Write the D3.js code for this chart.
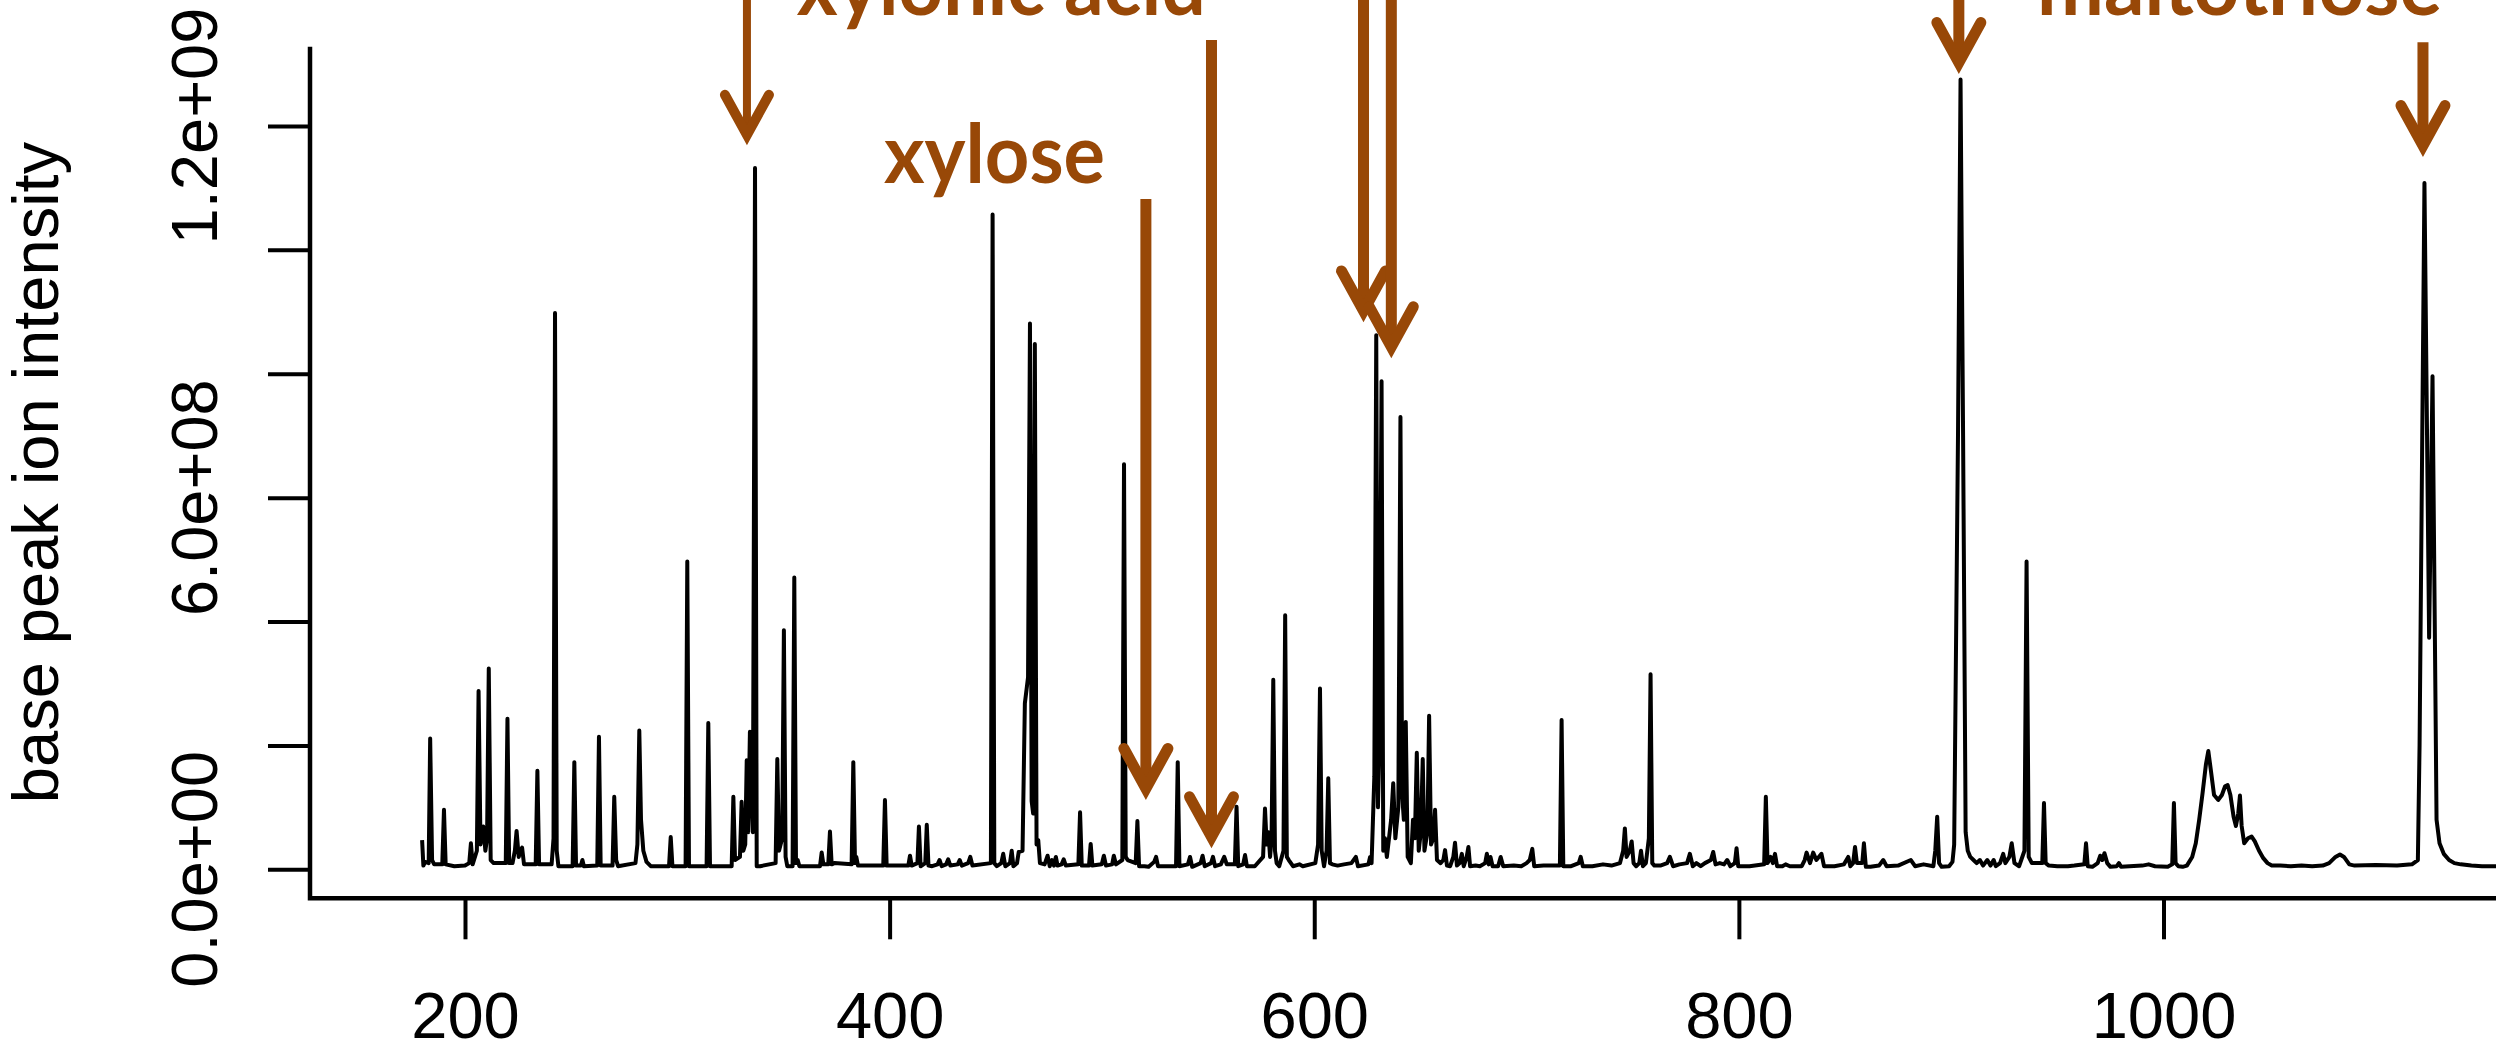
<!DOCTYPE html>
<html><head><meta charset="utf-8">
<script src="https://cdn.jsdelivr.net/npm/d3@7"></script>
<style>html,body{margin:0;padding:0;background:#fff;overflow:hidden}</style>
</head><body>
<svg id="chart" width="2496" height="1046"></svg>
<script>
// ---------------- DATA ----------------
// x: m/z-like scan axis, y: base peak ion intensity in units of 1e8
const xTicks = [200, 400, 600, 800, 1000];
const yTicks = [0, 2, 4, 6, 8, 10, 12];
const yLabelTicks = [0, 6, 12];
const yTickLabels = ["0.0e+00", "6.0e+08", "1.2e+09"];
const xDomain = [127, 1156.6];
const yDomain = [-0.468, 13.28];
const yTitle = "base peak ion intensity";

const spectrum = [
[179.8,0.47],[180.4,0.06],[181.2,0.12],[182.9,0.1],[183.6,2.11],[184.5,0.15],[185.5,0.08],[189.3,0.08],[190.1,0.96],[190.9,0.08],[195,0.05],[200,0.06],[202,0.1],[202.8,0.42],[203.6,0.08],[205.6,0.3],[206.4,2.88],[207.3,0.4],[208.6,0.69],[209.6,0.3],[210.4,0.5],[211.2,3.24],[212.1,0.15],[213.5,0.1],[219.2,0.1],[220,2.43],[220.8,0.1],[222.4,0.1],[223.5,0.3],[224.3,0.62],[225.3,0.2],[226.2,0.3],[226.9,0.35],[227.8,0.08],[233.3,0.08],[234.1,1.59],[234.9,0.08],[240.8,0.08],[241.7,0.5],[242.4,8.98],[243.2,0.3],[244,0.05],[250.7,0.05],[251.5,1.73],[252.3,0.06],[254.6,0.06],[255.3,0.15],[256,0.05],[262.3,0.06],[263.1,2.14],[263.9,0.06],[269.5,0.06],[270.3,1.17],[271.2,0.15],[272.1,0.05],[280.3,0.1],[281.2,0.4],[282.1,2.24],[282.9,0.8],[284,0.3],[285.5,0.12],[287.5,0.05],[296.1,0.05],[296.9,0.52],[297.7,0.05],[303.9,0.05],[304.7,4.97],[305.5,0.05],[313.8,0.05],[314.6,2.36],[315.4,0.05],[325.6,0.05],[326.4,1.17],[327.2,0.15],[329.5,0.2],[330.3,1.09],[331.1,0.3],[332,0.4],[332.7,1.76],[333.4,0.6],[334.2,2.22],[335.6,0.6],[336.6,11.32],[337.4,0.05],[339,0.05],[346.3,0.1],[347.1,1.78],[347.9,0.3],[349.4,0.5],[350.2,3.86],[351,0.2],[351.8,0.05],[354.3,0.05],[355.1,4.71],[355.9,0.1],[356.7,0.15],[357.5,0.05],[367.2,0.05],[368,0.27],[368.8,0.08],[371.1,0.08],[371.9,0.61],[372.7,0.08],[374,0.1],[382.1,0.08],[382.9,1.73],[383.7,0.1],[384.3,0.2],[385.1,0.06],[397,0.06],[397.8,1.12],[398.6,0.06],[408.8,0.06],[409.6,0.22],[410.4,0.06],[413.1,0.1],[413.8,0.69],[414.6,0.05],[416.8,0.1],[417.5,0.72],[418.3,0.06],[420,0.05],[422.6,0.08],[423.5,0.15],[424.5,0.05],[426.6,0.08],[427.6,0.16],[428.6,0.06],[432.1,0.08],[433,0.15],[434,0.06],[437,0.1],[438,0.2],[439,0.06],[447.7,0.1],[448.5,10.57],[449.3,0.1],[450.5,0.05],[452.6,0.1],[453.5,0.25],[454.5,0.05],[456.7,0.1],[457.5,0.3],[458.3,0.05],[460,0.1],[460.8,0.28],[462.6,0.3],[463.7,2.68],[465.2,3.1],[466.1,8.81],[466.9,1.1],[467.6,0.9],[468.4,8.48],[469.2,0.4],[470,0.47],[470.8,0.1],[473,0.08],[474.4,0.22],[475.4,0.05],[476.5,0.15],[477.4,0.06],[478.3,0.2],[479.1,0.06],[481,0.08],[482,0.16],[483,0.06],[488.9,0.08],[489.7,0.92],[490.5,0.06],[493.9,0.06],[494.7,0.41],[495.5,0.06],[499.9,0.08],[500.9,0.22],[501.9,0.06],[504.8,0.08],[505.6,0.22],[506.6,0.08],[509.6,0.15],[510.4,6.54],[511.2,0.2],[512.1,0.15],[515.9,0.1],[516.7,0.78],[517.5,0.05],[520,0.05],[522,0.04],[524.6,0.12],[525.5,0.2],[526.4,0.05],[534.9,0.05],[535.7,1.73],[536.5,0.05],[540.5,0.08],[541.5,0.2],[542.5,0.04],[546.5,0.1],[547.4,0.22],[548.4,0.05],[551.4,0.1],[552.3,0.2],[553.3,0.05],[556,0.08],[557.6,0.2],[558.8,0.08],[562.6,0.08],[563.4,1.01],[564.2,0.05],[566.5,0.08],[567.4,0.23],[568.3,0.05],[572,0.05],[575.9,0.2],[576.8,0.98],[577.6,0.4],[578.4,0.6],[579.2,0.2],[579.9,0.5],[580.7,3.06],[581.5,0.3],[582.3,0.1],[583.5,0.05],[585.5,0.3],[586.3,4.1],[587.1,0.2],[588,0.15],[590,0.05],[593,0.08],[594.6,0.05],[600.5,0.1],[601.8,0.4],[602.7,2.92],[603.5,0.3],[604.6,0.05],[605.8,0.3],[606.6,1.47],[607.4,0.1],[608.5,0.08],[611,0.06],[614,0.08],[617.5,0.1],[619.6,0.2],[620.6,0.05],[625.5,0.08],[626.3,0.2],[627,0.1],[628.3,1.5],[629.2,8.62],[630,1.0],[630.7,2.0],[631.7,7.88],[632.5,0.3],[633.3,0.5],[634.2,0.2],[636.2,0.8],[637.2,1.39],[638.2,0.5],[639.6,1.0],[640.6,7.3],[641.4,1.2],[642.2,0.8],[643.1,2.38],[644,0.2],[645.5,0.1],[646.5,0.8],[647.4,0.5],[648.3,1.88],[649.2,0.3],[650.2,0.6],[651.1,1.78],[651.9,0.3],[653.3,0.6],[654.1,2.48],[655,0.4],[656.1,0.5],[656.9,0.96],[657.8,0.15],[659.5,0.1],[660.8,0.15],[661.6,0.31],[662.5,0.06],[664,0.05],[665.5,0.2],[666.3,0.43],[667.2,0.06],[668.5,0.1],[669.5,0.25],[670.4,0.05],[671.8,0.2],[672.6,0.36],[673.4,0.05],[676,0.06],[678,0.05],[680.5,0.1],[681.3,0.25],[682.2,0.08],[683,0.2],[684,0.05],[686.6,0.05],[687.8,0.2],[689,0.05],[694,0.06],[697.5,0.05],[700,0.1],[701.5,0.15],[702.7,0.33],[703.6,0.05],[708,0.06],[715.7,0.06],[716.5,2.41],[717.3,0.05],[721,0.05],[724.6,0.1],[725.5,0.2],[726.5,0.05],[731,0.05],[736,0.08],[740,0.06],[744,0.1],[745.5,0.3],[746.3,0.66],[747.1,0.2],[748.6,0.3],[749.5,0.45],[750.4,0.1],[751.6,0.05],[753.1,0.1],[753.9,0.3],[754.8,0.05],[756.2,0.1],[757.6,0.5],[758.4,3.15],[759.2,0.1],[760.2,0.06],[763,0.06],[766.2,0.1],[767.5,0.2],[769,0.05],[772,0.08],[775.6,0.1],[776.9,0.25],[778.3,0.05],[780,0.1],[782,0.05],[784,0.1],[786.8,0.15],[787.9,0.28],[789,0.08],[791,0.1],[793,0.08],[794.5,0.15],[796,0.05],[798.1,0.1],[798.9,0.34],[799.7,0.05],[805,0.05],[811.9,0.08],[812.7,1.17],[813.5,0.1],[815,0.2],[816,0.1],[817,0.25],[818,0.05],[820.5,0.05],[822,0.08],[824,0.05],[829.6,0.05],[831,0.15],[831.9,0.27],[833.5,0.1],[835,0.27],[836.5,0.15],[838.9,0.25],[840.1,0.05],[845,0.05],[849.5,0.08],[851.5,0.2],[852.5,0.05],[853.8,0.1],[854.7,0.36],[855.6,0.1],[858.1,0.1],[858.9,0.42],[859.8,0.04],[862,0.04],[866,0.06],[868,0.15],[869.6,0.05],[875,0.06],[881,0.15],[883,0.05],[887,0.08],[891.6,0.05],[892.5,0.3],[893.4,0.85],[894.3,0.1],[895.5,0.04],[899,0.05],[900.6,0.12],[901.4,0.4],[903.2,7.0],[904.4,12.75],[905.6,7.0],[906.8,0.6],[907.8,0.3],[909,0.2],[910.5,0.15],[912,0.1],[913.5,0.15],[915,0.06],[917,0.15],[918.5,0.06],[920,0.15],[921,0.05],[923,0.1],[924.5,0.25],[925.5,0.1],[927.4,0.2],[928.5,0.42],[929.8,0.1],[932,0.05],[934.5,0.3],[935.5,4.97],[936.5,0.2],[938,0.1],[942.9,0.1],[943.7,1.07],[944.5,0.1],[946,0.06],[950,0.05],[955,0.05],[958,0.06],[962.7,0.08],[963.5,0.42],[964.3,0.05],[966.5,0.04],[969,0.1],[970.2,0.22],[971.2,0.15],[972.2,0.26],[973.5,0.1],[975,0.04],[978,0.05],[979,0.1],[980,0.04],[990,0.06],[993,0.08],[996,0.05],[1002,0.04],[1004.1,0.08],[1004.9,1.07],[1005.7,0.1],[1007,0.05],[1009,0.04],[1011,0.06],[1013.5,0.2],[1015.2,0.42],[1016.8,0.8],[1018.4,1.23],[1020,1.7],[1021.1,1.91],[1022.3,1.6],[1023.8,1.2],[1025.8,1.12],[1027.5,1.2],[1029,1.34],[1030.2,1.36],[1031.5,1.2],[1033,0.85],[1034.1,0.7],[1035.2,0.9],[1036,1.19],[1036.8,0.7],[1038,0.42],[1039.8,0.5],[1041.5,0.53],[1043,0.45],[1045,0.3],[1047,0.18],[1049,0.1],[1051,0.06],[1055,0.06],[1060,0.05],[1065,0.06],[1070,0.05],[1075,0.06],[1078,0.1],[1081,0.2],[1083.1,0.24],[1085,0.2],[1087.5,0.08],[1090,0.06],[1100,0.07],[1110,0.06],[1117,0.08],[1119.8,0.15],[1120.6,2.0],[1122.9,11.08],[1125.1,3.74],[1126.7,7.96],[1128.6,0.8],[1130,0.42],[1132,0.25],[1134.5,0.15],[1137,0.1],[1140,0.08],[1145,0.06],[1150,0.05],[1158,0.05]
];

// Annotations (data coordinates: x in m/z, y in 1e8 intensity units)
const labelText = ["xylonic acid", "xylose", "maltotriose"];
const labelMz = [452.6, 449.4, 1035.8];
const labelY = [13.79, 11.08, 13.79];
const arrowMz = [332.8, 520.7, 551.6, 623.2, 636.3, 903.6, 1122.2];
const arrowTip = [11.69, 1.12, 0.34, 8.83, 8.25, 12.84, 11.5];
const arrowTop = [14.6, 10.82, 13.39, 14.6, 14.6, 14.6, 13.35];

// ---------------- DRAWING ----------------
const W = 2496, H = 1046;
const svg = d3.select("#chart");
svg.append("rect").attr("width", W).attr("height", H).attr("fill", "#fff");

const plotLeft = 310, plotTop = 46.7, plotBottom = 898.3;
const x = d3.scaleLinear().domain(xDomain).range([plotLeft, W]);
const y = d3.scaleLinear().domain(yDomain).range([plotBottom, plotTop]);
const rFont = "'Liberation Sans', Arial, sans-serif";
const brown = "#984807";

// spectrum trace
svg.append("path")
  .datum(spectrum)
  .attr("fill", "none")
  .attr("stroke", "#000")
  .attr("stroke-width", 4)
  .attr("stroke-linejoin", "round")
  .attr("d", d3.line().x(d => x(d[0])).y(d => y(d[1])));

// x axis (ticks + labels)
const xAxis = svg.append("g")
  .attr("transform", `translate(0,${plotBottom})`)
  .call(d3.axisBottom(x).tickValues(xTicks).tickSize(41).tickFormat(d3.format("d")));
xAxis.select(".domain").remove();
xAxis.selectAll(".tick line").attr("stroke", "#000").attr("stroke-width", 4);
xAxis.selectAll(".tick text")
  .attr("y", 140).attr("dy", 0)
  .attr("fill", "#000")
  .style("font-family", rFont).style("font-size", "65px");

// y axis ticks
const yAxis = svg.append("g")
  .attr("transform", `translate(${plotLeft},0)`)
  .call(d3.axisLeft(y).tickValues(yTicks).tickSize(42).tickFormat(""));
yAxis.select(".domain").remove();
yAxis.selectAll(".tick line").attr("stroke", "#000").attr("stroke-width", 4);

// y tick labels (rotated, R style)
svg.append("g").selectAll("text")
  .data(yLabelTicks)
  .join("text")
  .attr("transform", (d) => `translate(217,${y(d)}) rotate(-90)`)
  .attr("text-anchor", "middle")
  .style("font-family", rFont).style("font-size", "65px")
  .attr("fill", "#000")
  .text((d, i) => yTickLabels[i]);

// y axis title
svg.append("text")
  .attr("transform", `translate(58,${(plotTop + plotBottom) / 2}) rotate(-90)`)
  .attr("text-anchor", "middle")
  .style("font-family", rFont).style("font-size", "65px")
  .attr("fill", "#000")
  .text(yTitle);

// L-shaped box
svg.append("path")
  .attr("d", `M${plotLeft},${plotTop}V${plotBottom}H${W + 10}`)
  .attr("fill", "none").attr("stroke", "#000").attr("stroke-width", 4.5)
  .attr("stroke-linejoin", "miter");

// annotation arrows
const shaftW = [8, 11, 11, 11, 11, 11, 11];
const headW = [10, 11, 11, 11, 11, 11, 11];
const ann = svg.append("g");
arrowMz.forEach((m, i) => {
  const ax = x(m), tipY = y(arrowTip[i]), topY = y(arrowTop[i]);
  const hw = 22, hh = 40;
  const sw = headW[i];
  const sinT = hw / Math.hypot(hw, hh);
  const v = tipY - (sw / 2) / sinT;
  ann.append("line")
    .attr("x1", ax).attr("x2", ax).attr("y1", topY).attr("y2", v)
    .attr("stroke", brown).attr("stroke-width", shaftW[i]);
  ann.append("path")
    .attr("d", `M${ax - hw},${v - hh}L${ax},${v}L${ax + hw},${v - hh}`)
    .attr("fill", "none").attr("stroke", brown).attr("stroke-width", sw)
    .attr("stroke-linejoin", "miter").attr("stroke-miterlimit", 10)
    .attr("stroke-linecap", "round");
});

// annotation labels
const labelLen = [409, 221, 405];
ann.selectAll("text.lab")
  .data(labelText)
  .join("text")
  .attr("class", "lab")
  .attr("x", (d, i) => x(labelMz[i]) - labelLen[i] / 2)
  .attr("y", (d, i) => y(labelY[i]))
  .attr("textLength", (d, i) => labelLen[i])
  .attr("lengthAdjust", "spacingAndGlyphs")
  .style("font-family", "Lato, 'Open Sans', sans-serif")
  .style("font-weight", "bold")
  .style("font-size", "83px")
  .attr("fill", brown)
  .text(d => d);
</script>
</body></html>
